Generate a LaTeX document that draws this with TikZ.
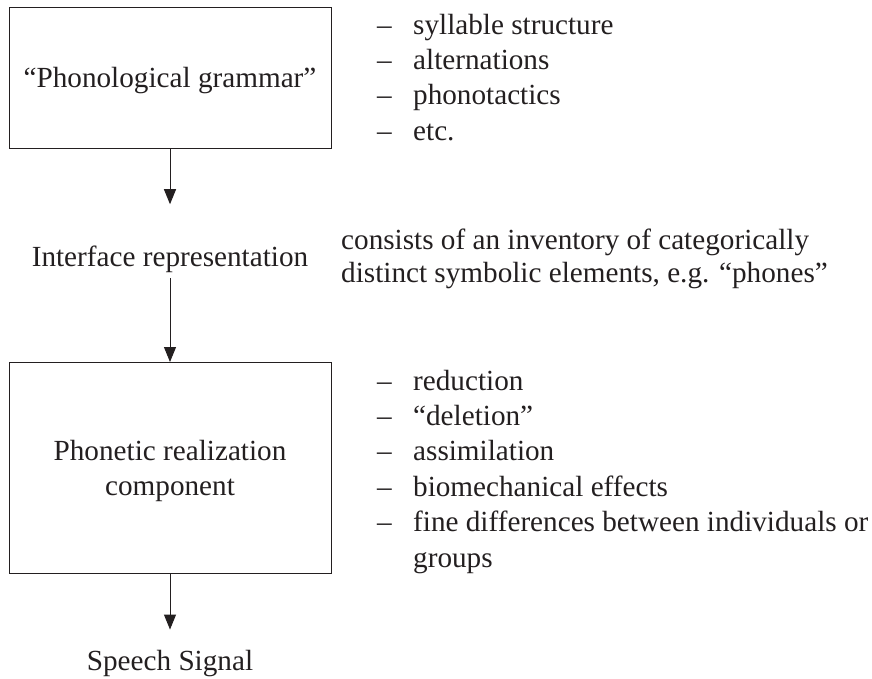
\documentclass[tikz,border=0pt]{standalone}
\usepackage{fontspec}
\setmainfont{Liberation Serif}
\usepackage{xcolor}
\usepackage{tikz}
\usetikzlibrary{arrows.meta}
\definecolor{ink}{RGB}{35,31,32}
\newcommand{\diagfont}{\fontsize{29.2}{35.4}\selectfont}
\newcommand{\notefont}{\fontsize{29.2}{33}\selectfont}
\tikzset{
    box/.style = {rectangle, draw=ink, line width=1pt, minimum width=322pt, minimum height=141pt, text centered, align=center, text depth=0pt, text=ink, font=\diagfont},
    term/.style = {inner sep=0pt, text=ink, font=\diagfont},
    note/.style = {inner sep=0pt, anchor=base west, text=ink, font=\diagfont},
    arrow/.style = {line width=1pt, draw=ink, -{Triangle[length=15pt,width=12pt]}}
}

\begin{document}
\begin{tikzpicture}[x=1pt, y=-1pt]
\useasboundingbox (0,0) rectangle (872,678);
\node (gram) [box] at (170,77.5) {“Phonological grammar”};
\node (iface) [term, anchor=base] at (170,266) {Interface representation};
\node (phon) [box, minimum height=211pt] at (170,468) {Phonetic realization\\component};
\node (speech) [term, anchor=base] at (170,670) {Speech Signal};

\node (gramlist) [note] at (377,34) {\begin{tabular}[t]{@{}l@{\hspace{21.4pt}}l@{}}
– & syllable structure\\
– & alternations\\
– & phonotactics\\
– & etc.
\end{tabular}};
\node (ifacenote) [note, font=\notefont] at (341,249) {\begin{tabular}[t]{@{}l@{}}
consists of an inventory of categorically\\
distinct symbolic elements, e.g. “phones”
\end{tabular}};
\node (phonlist) [note] at (377,390) {\begin{tabular}[t]{@{}l@{\hspace{21.4pt}}l@{}}
– & reduction\\
– & “deletion”\\
– & assimilation\\
– & biomechanical effects\\
– & fine differences between individuals or\\
  & groups
\end{tabular}};

\draw [arrow, shorten >=41pt] (gram) -- (iface);
\draw [arrow, shorten <=6pt] (iface) -- (phon);
\draw [arrow, shorten >=20pt] (phon) -- (speech);
\end{tikzpicture}
\end{document}
